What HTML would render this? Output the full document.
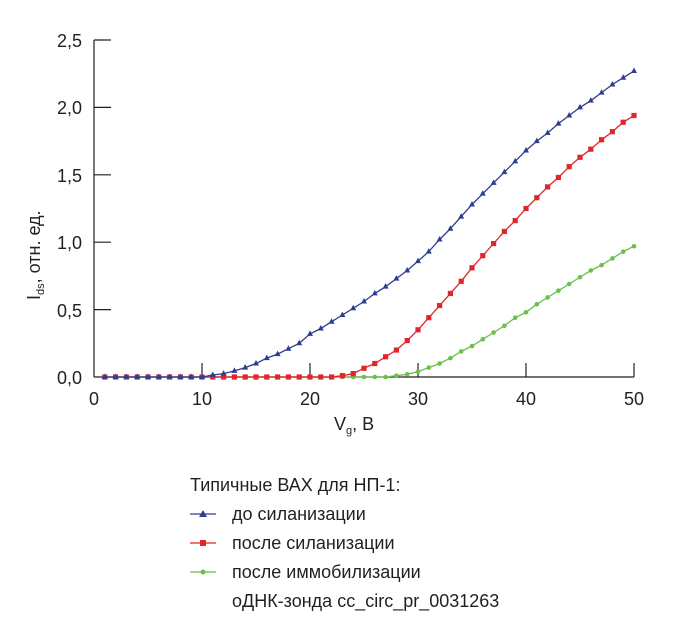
<!DOCTYPE html>
<html><head><meta charset="utf-8"><style>
body{margin:0;background:#fff;width:674px;height:630px;overflow:hidden}
text{font-family:"Liberation Sans",sans-serif;fill:#231f20}
</style></head><body>
<svg width="674" height="630" xmlns="http://www.w3.org/2000/svg" id="s">
<g stroke="#231f20" stroke-width="1.2" fill="none">
<line x1="94" y1="40" x2="94" y2="377"/>
<line x1="94" y1="377" x2="634" y2="377"/>
<line x1="94" y1="40" x2="111" y2="40"/>
<line x1="94" y1="107.4" x2="111" y2="107.4"/>
<line x1="94" y1="174.8" x2="111" y2="174.8"/>
<line x1="94" y1="242.2" x2="111" y2="242.2"/>
<line x1="94" y1="309.6" x2="111" y2="309.6"/>
<line x1="202" y1="377" x2="202" y2="363"/>
<line x1="310" y1="377" x2="310" y2="363"/>
<line x1="418" y1="377" x2="418" y2="363"/>
<line x1="526" y1="377" x2="526" y2="363"/>
<line x1="634" y1="377" x2="634" y2="363"/>
</g>
<g font-size="18" text-anchor="end">
<text x="82" y="47">2,5</text><text x="82" y="114">2,0</text><text x="82" y="182">1,5</text>
<text x="82" y="249">1,0</text><text x="82" y="317">0,5</text><text x="82" y="384">0,0</text>
</g>
<g font-size="18" text-anchor="middle">
<text x="94" y="405">0</text><text x="202" y="405">10</text><text x="310" y="405">20</text>
<text x="418" y="405">30</text><text x="526" y="405">40</text><text x="634" y="405">50</text>
</g>
<text x="334" y="430" font-size="18">V<tspan font-size="11" dy="4">g</tspan><tspan dy="-4">, B</tspan></text>
<text transform="translate(40,300) rotate(-90)" font-size="18">I<tspan font-size="11" dy="4">ds</tspan><tspan dy="-4">, отн. ед.</tspan></text>
<g id="series"></g>
<g font-size="18">
<text x="190" y="491">Типичные ВАХ для НП-1:</text>
<text x="232" y="520">до силанизации</text>
<text x="232" y="549">после силанизации</text>
<text x="232" y="578">после иммобилизации</text>
<text x="232" y="607">оДНК-зонда cc_circ_pr_0031263</text>
</g>
<g stroke-width="1.2">
<line x1="190" y1="514" x2="216" y2="514" stroke="#2e3d8f"/><polygon points="203,510 207,517 199,517" fill="#2e3d8f"/>
<line x1="190" y1="543" x2="216" y2="543" stroke="#e0262a"/><rect x="200" y="540" width="6" height="6" fill="#e0262a"/>
<line x1="190" y1="572" x2="216" y2="572" stroke="#6cbf4a"/><circle cx="203" cy="572" r="2.5" fill="#6cbf4a"/>
</g>
</svg>
<script>
var X=v=>94+v*10.8,Y=v=>377-v*134.8;
function z(n){return Array(n).fill(0);}
var B=z(11).concat([0.015,0.025,0.045,0.07,0.10,0.14,0.17,0.21,0.25,0.32,0.36,0.41,0.46,0.51,0.56,0.62,0.67,0.73,0.79,0.86,0.93,1.02,1.10,1.19,1.28,1.36,1.44,1.52,1.60,1.68,1.75,1.81,1.88,1.94,2.00,2.05,2.11,2.17,2.22,2.27]);
var R=z(23).concat([0.01,0.025,0.065,0.10,0.15,0.20,0.27,0.35,0.44,0.53,0.62,0.71,0.81,0.90,0.99,1.08,1.16,1.25,1.33,1.41,1.48,1.56,1.63,1.69,1.76,1.82,1.89,1.94]);
var G=z(28).concat([0.01,0.02,0.04,0.07,0.10,0.14,0.19,0.23,0.28,0.33,0.38,0.44,0.48,0.54,0.59,0.64,0.69,0.74,0.79,0.83,0.88,0.93,0.97]);
var S=[{c:"#6cbf4a",m:"c",d:G},{c:"#e0262a",m:"s",d:R},{c:"#2e3d8f",m:"t",d:B}];
var h="";
S.forEach(s=>{var p=[];for(var x=1;x<=50;x++)p.push(X(x).toFixed(1)+","+Y(s.d[x]).toFixed(1));
h+='<polyline fill="none" stroke="'+s.c+'" stroke-width="1.3" points="'+p.join(" ")+'"/>';
for(var x=1;x<=50;x++){var cx=X(x),cy=Y(s.d[x]);
if(s.m=="c")h+='<circle cx="'+cx+'" cy="'+cy+'" r="2.3" fill="'+s.c+'"/>';
else if(s.m=="s")h+='<rect x="'+(cx-2.6)+'" y="'+(cy-2.6)+'" width="5.2" height="5.2" fill="'+s.c+'"/>';
else h+='<polygon points="'+cx+','+(cy-3.5)+' '+(cx+3)+','+(cy+2)+' '+(cx-3)+','+(cy+2)+'" fill="'+s.c+'"/>';}});
document.getElementById("series").innerHTML=h;
</script>
</body></html>
